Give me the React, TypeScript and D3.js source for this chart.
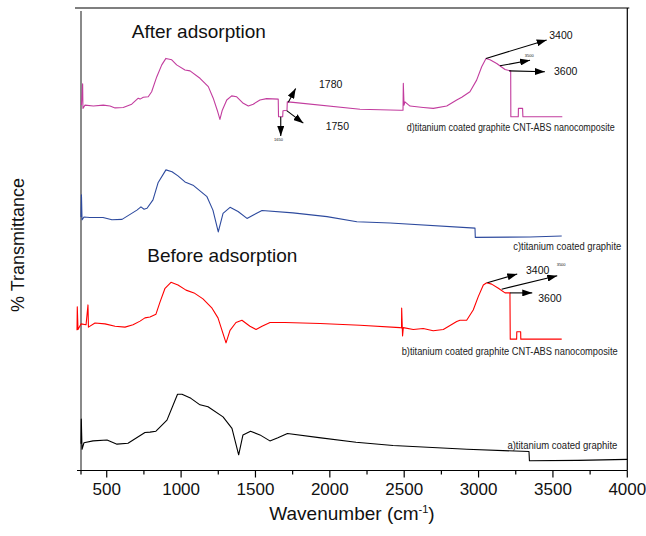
import React from 'react';
import * as d3 from 'd3';

const W = 646;
const H = 536;

const xDomain: [number, number] = [327, 4000];
const yDomain: [number, number] = [0, 100];
const majorTicks = [500, 1000, 1500, 2000, 2500, 3000, 3500, 4000];
const minorTicks = [327, 750, 1250, 1750, 2250, 2750, 3250, 3750];

type P = [number, number];

// a) titanium coated graphite (black)
const curveA: P[] = [
  [327, 5.8], [329, 11.1], [334, 4.6], [347, 6.0], [408, 6.4], [502, 6.6], [569, 5.7], [643, 5.9],
  [757, 8.2], [791, 8.3], [831, 8.5], [905, 10.9], [976, 16.5], [1006, 16.5], [1066, 15.6],
  [1127, 14.2], [1181, 13.8], [1282, 11.6], [1342, 9.1], [1387, 3.4], [1416, 7.7], [1467, 8.5],
  [1530, 7.7], [1597, 6.4], [1651, 7.1], [1715, 8.0], [1927, 7.1], [2176, 6.1], [2425, 5.4],
  [2922, 4.6], [3339, 4.1], [3342, 2.1], [3668, 2.2], [4000, 2.4],
];

// b) titanium coated graphite CNT-ABS nanocomposite (red)
const curveB: P[] = [
  [300, 30.3], [302, 35.4], [307, 30.5], [327, 31.7], [361, 31.5], [374, 35.8], [377, 31.0],
  [421, 31.9], [488, 31.7], [556, 31.2], [623, 31.0], [677, 31.5], [724, 32.3], [757, 33.0],
  [791, 33.2], [831, 33.8], [858, 36.4], [892, 39.4], [932, 40.7], [979, 40.1], [1033, 39.0],
  [1087, 38.4], [1147, 37.1], [1208, 35.1], [1248, 33.0], [1275, 30.3], [1302, 27.6],
  [1329, 30.3], [1369, 32.0], [1409, 32.5], [1463, 31.2], [1504, 30.5], [1544, 31.2],
  [1598, 32.0], [1698, 32.0], [1934, 31.8], [2203, 31.4], [2471, 30.9], [2482, 30.8],
  [2483, 35.1], [2489, 29.1], [2494, 30.9], [2561, 30.5], [2628, 30.7], [2695, 30.2],
  [2763, 30.5], [2853, 32.2], [2875, 32.5], [2920, 32.5], [2964, 34.7], [2998, 37.6],
  [3032, 40.1], [3055, 40.6], [3088, 40.3], [3133, 39.4], [3178, 38.4], [3211, 38.4],
  [3213, 28.4], [3256, 28.4], [3257, 30.0], [3283, 30.0], [3284, 28.4], [3559, 28.4],
];

// c) titanium coated graphite (blue)
const curveC: P[] = [
  [327, 54.8], [330, 59.6], [334, 54.2], [347, 54.8], [387, 54.7], [475, 54.7], [535, 54.2],
  [603, 54.3], [703, 56.3], [730, 57.0], [751, 56.5], [771, 56.7], [811, 58.5], [845, 62.2],
  [898, 65.0], [939, 64.6], [979, 63.7], [1026, 62.4], [1080, 61.7], [1174, 59.2], [1214, 56.3],
  [1250, 51.6], [1282, 55.6], [1329, 56.9], [1383, 56.0], [1443, 54.5], [1483, 55.2],
  [1544, 56.2], [1752, 55.7], [1981, 54.9], [2182, 53.8], [2405, 53.5], [2976, 52.4],
  [2978, 50.4], [3346, 50.5], [3559, 50.7],
];

// d) titanium coated graphite CNT-ABS nanocomposite after adsorption (magenta)
const curveD: P[] = [
  [330, 79.0], [338, 83.6], [340, 78.3], [354, 79.0], [410, 78.8], [477, 79.0], [522, 78.8],
  [556, 78.4], [611, 78.5], [668, 79.2], [712, 80.5], [724, 80.3], [746, 80.7], [779, 80.8],
  [802, 81.9], [836, 85.1], [870, 87.7], [898, 89.1], [937, 88.8], [970, 87.7], [1026, 86.6],
  [1060, 86.4], [1127, 84.8], [1183, 83.0], [1216, 80.5], [1243, 77.9], [1261, 75.9],
  [1277, 77.9], [1307, 80.1], [1340, 81.0], [1374, 80.8], [1418, 79.4], [1452, 78.8],
  [1485, 79.2], [1530, 80.1], [1575, 80.4], [1653, 80.3], [1655, 76.5], [1683, 76.5],
  [1685, 77.8], [1712, 77.9], [1714, 79.7], [1754, 79.6], [2203, 78.1], [2472, 77.9],
  [2492, 77.9], [2494, 83.7], [2499, 79.0], [2505, 79.7], [2539, 78.8], [2628, 78.5],
  [2696, 78.3], [2786, 78.8], [2853, 80.1], [2887, 80.7], [2942, 81.9], [2987, 84.4],
  [3021, 87.3], [3050, 89.1], [3077, 88.8], [3122, 88.0], [3178, 86.7], [3216, 86.4],
  [3217, 76.5], [3267, 76.5], [3268, 78.3], [3296, 78.3], [3298, 76.5], [3563, 76.5],
];

// arrows: [x1, y1, x2, y2] in data units
const arrows: [number, number, number, number][] = [
  [3050, 89.1, 3458, 93.1],
  [3144, 87.5, 3346, 88.7],
  [3206, 86.4, 3446, 86.2],
  [1670, 76.5, 1670, 72.3],
  [1721, 79.6, 1770, 82.6],
  [1710, 77.8, 1822, 75.1],
  [3059, 40.6, 3260, 42.5],
  [3155, 39.2, 3529, 42.1],
  [3211, 38.4, 3361, 38.4],
];

// peak labels: [text, x, y, size]
const peakLabels: [string, number, number, number][] = [
  ['3400', 3475, 93.2, 10.5],
  ['3500', 3341, 89.3, 4],
  ['3600', 3507, 85.5, 10.5],
  ['1780', 1927, 82.6, 10.5],
  ['1750', 1972, 73.6, 10.5],
  ['1650', 1655, 71.3, 4],
  ['3400', 3319, 42.5, 10.5],
  ['3500', 3555, 44.3, 4],
  ['3600', 3401, 36.5, 10.5],
];

// curve labels: [text, x, y, length]
const curveLabels: [string, number, number, number][] = [
  ['a)titanium coated graphite', 3194, 4.6, 110],
  ['b)titanium coated graphite CNT-ABS nanocomposite', 2483, 25.0, 216],
  ['c)titanium coated graphite', 3233, 47.7, 108],
  ['d)titanium coated graphite CNT-ABS nanocomposite', 2517, 73.3, 208],
];

const headings: [string, number, number][] = [
  ['After adsorption', 668, 93.6],
  ['Before adsorption', 773, 45.1],
];

const series: { data: P[]; color: string }[] = [
  { data: curveA, color: '#000000' },
  { data: curveB, color: '#ff0000' },
  { data: curveC, color: '#2d4a9e' },
  { data: curveD, color: '#c23c9e' },
];

const FONT = 'Liberation Sans, Arial, Helvetica, sans-serif';

export default function App() {
  const x = d3.scaleLinear().domain(xDomain).range([81, 627.3]);
  const y = d3.scaleLinear().domain(yDomain).range([470.5, 8]);
  const line = d3.line<P>().x((d) => x(d[0])).y((d) => y(d[1]));
  const y0 = y(0);
  const yTop = y(100);
  const xL = x(xDomain[0]);
  const xR = x(xDomain[1]);

  return (
    <svg
      width={W}
      height={H}
      style={{ position: 'absolute', left: 0, top: 0, background: '#fff' }}
      fontFamily={FONT}
    >
      <defs>
        <marker
          id="ah"
          markerUnits="userSpaceOnUse"
          markerWidth={10}
          markerHeight={7}
          refX={10}
          refY={3.5}
          orient="auto"
        >
          <path d="M0,0 L10,3.5 L0,7 z" fill="#000" />
        </marker>
      </defs>
      <rect width={W} height={H} fill="#fff" />
      {/* frame */}
      <line x1={xL - 6} x2={xR + 2} y1={yTop} y2={yTop} stroke="#000" strokeWidth={1.2} />
      <line x1={xR} x2={xR} y1={yTop} y2={y0} stroke="#000" strokeWidth={1.2} />
      <line x1={xL} x2={xL} y1={yTop + 3} y2={y0} stroke="#8a8a8a" strokeWidth={2} />
      <line x1={xL - 4} x2={xR} y1={y0} y2={y0} stroke="#000" strokeWidth={1.2} />
      {majorTicks.map((t) => (
        <g key={'M' + t}>
          <line x1={x(t)} x2={x(t)} y1={y0} y2={y0 + 7} stroke="#000" strokeWidth={1.2} />
          <text x={x(t)} y={495} textAnchor="middle" fontSize={17} fill="#111">
            {t}
          </text>
        </g>
      ))}
      {minorTicks.map((t) => (
        <line key={'m' + t} x1={x(t)} x2={x(t)} y1={y0} y2={y0 + 4} stroke="#000" strokeWidth={1.2} />
      ))}
      {/* axis titles */}
      <text x={352} y={520} textAnchor="middle" fontSize={19} fill="#111">
        Wavenumber (cm<tspan dy={-7} fontSize={11}>-1</tspan>
        <tspan dy={7}>)</tspan>
      </text>
      <text
        transform={`translate(24,${245}) rotate(-90)`}
        textAnchor="middle"
        fontSize={18}
        fill="#111"
      >
        % Transmittance
      </text>
      {/* series */}
      {series.map((s, i) => (
        <path key={i} d={line(s.data) || ''} fill="none" stroke={s.color} strokeWidth={1.1} strokeLinejoin="round" />
      ))}
      {/* headings */}
      {headings.map(([t, wx, wy]) => (
        <text key={t} x={x(wx)} y={y(wy)} fontSize={19} fill="#111">
          {t}
        </text>
      ))}
      {/* curve labels */}
      {curveLabels.map(([t, wx, wy, len]) => (
        <text key={t} x={x(wx)} y={y(wy)} fontSize={10} fill="#222" textLength={len} lengthAdjust="spacingAndGlyphs">
          {t}
        </text>
      ))}
      {/* arrows */}
      {arrows.map(([a, b, c, d], i) => (
        <line key={'a' + i} x1={x(a)} y1={y(b)} x2={x(c)} y2={y(d)} stroke="#000" strokeWidth={1.1} markerEnd="url(#ah)" />
      ))}
      {peakLabels.map(([t, wx, wy, fs], i) => (
        <text key={'p' + i} x={x(wx)} y={y(wy)} fontSize={fs} fill="#111" textAnchor={fs < 6 ? 'middle' : 'start'}>
          {t}
        </text>
      ))}
    </svg>
  );
}
